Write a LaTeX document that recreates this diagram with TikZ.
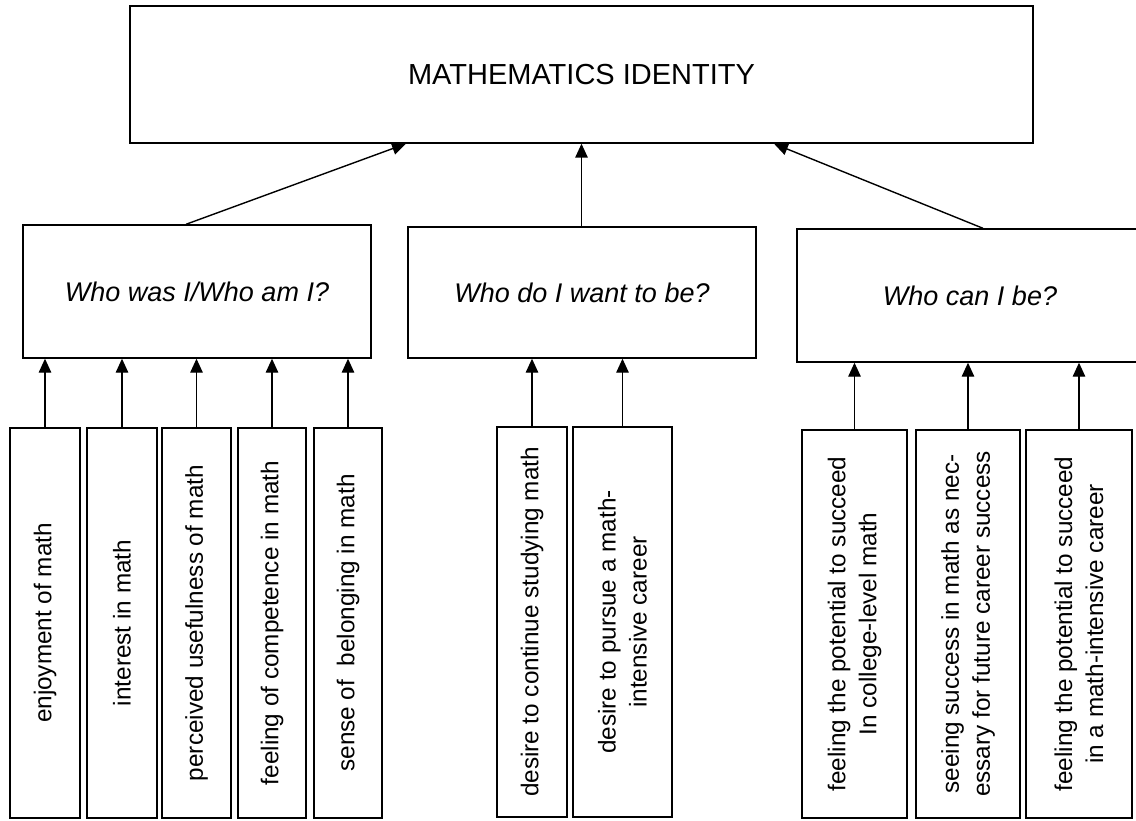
\documentclass[tikz,border=0pt]{standalone}
\usepackage{fontspec}
\setmainfont{Liberation Sans}
\usetikzlibrary{arrows.meta,calc}
\tikzset{
  box/.style={draw=black, line width=1.4pt, rectangle, inner sep=0pt, align=center},
  topbox/.style={box, font=\fontsize{29}{34}\selectfont},
  midbox/.style={box, font=\fontsize{27}{32}\itshape\selectfont},
  botbox/.style={box, rotate=90, font=\fontsize{24.3}{31}\selectfont},
  arr/.style={line width=1.4pt, -{Triangle[length=14pt,width=12.5pt]}}
}
\begin{document}
\begin{tikzpicture}[x=1pt,y=-1pt]
\useasboundingbox (0,0) rectangle (1136,821);
\clip (0,0) rectangle (1136,821);
% top
\node[topbox, minimum width=903pt, minimum height=137pt] (top) at (581.5,74.5) {MATHEMATICS IDENTITY};
% middle level
\node[midbox, minimum width=348pt, minimum height=133pt] (left) at (197,291.5) {Who was I/Who am I?};
\node[midbox, minimum width=348pt, minimum height=131pt] (mid) at (582,292.5) {Who do I want to be?};
\node[midbox, minimum width=346pt, minimum height=133pt] (right) at (970,295.5) {Who can I be?};
% bottom left group (rotated: width = vertical extent)
\node[botbox, minimum width=390pt, minimum height=70pt] (a1) at (45,623) {enjoyment of math};
\node[botbox, minimum width=390pt, minimum height=70pt] (a2) at (122,623) {interest in math};
\node[botbox, minimum width=390pt, minimum height=69pt] (a3) at (196.5,623) {perceived usefulness of math};
\node[botbox, minimum width=390pt, minimum height=68pt] (a4) at (272,623) {feeling of competence in math};
\node[botbox, minimum width=390pt, minimum height=68pt] (a5) at (348,623) {sense of\ \ belonging in math};
% bottom middle group
\node[botbox, minimum width=390pt, minimum height=70pt] (b1) at (532,622) {desire to continue studying math};
\node[botbox, minimum width=390pt, minimum height=99pt] (b2) at (622.5,622) {desire to pursue a math-\\intensive career};
% bottom right group
\node[botbox, minimum width=388pt, minimum height=105pt] (c1) at (854.5,624) {feeling the potential to succeed\\In college-level math};
\node[botbox, minimum width=388pt, minimum height=104pt] (c2) at (968,624) {seeing success in math as nec-\\essary for future career success};
\node[botbox, minimum width=388pt, minimum height=106pt] (c3) at (1079,624) {feeling the potential to succeed\\in a math-intensive career};
% arrows to top
\draw[arr] ([xshift=-11pt]left.north) -- ([xshift=-175.5pt]top.south);
\draw[arr] (mid.north -| top.south) -- (top.south);
\draw[arr] ([xshift=13pt]right.north) -- ([xshift=192.5pt]top.south);
% arrows to middle
\foreach \n in {a1,a2,a3,a4,a5} \draw[arr] (\n.east) -- (\n.east |- left.south);
\foreach \n in {b1,b2} \draw[arr] (\n.east) -- (\n.east |- mid.south);
\foreach \n in {c1,c2,c3} \draw[arr] (\n.east) -- (\n.east |- right.south);
\end{tikzpicture}
\end{document}
